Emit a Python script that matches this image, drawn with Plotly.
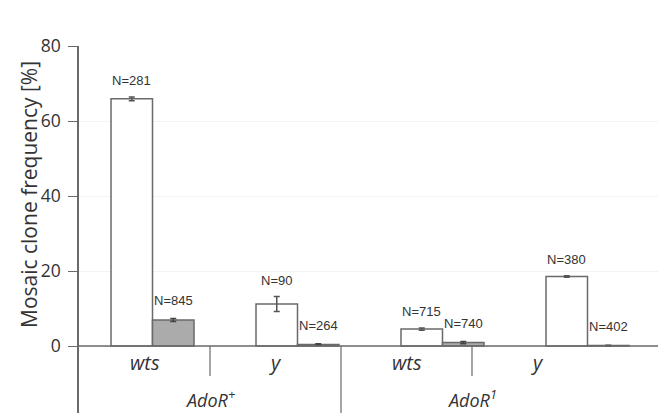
import plotly.graph_objects as go

# ---- data ----
genes = ["wts", "y", "wts", "y"]
backgrounds = ["AdoR<sup>+</sup>", "AdoR<sup>1</sup>"]
open_vals = [65.9, 11.2, 4.5, 18.5]
open_err = [0.5, 2.0, 0.3, 0.2]
open_n = ["N=281", "N=90", "N=715", "N=380"]
grey_vals = [6.9, 0.4, 0.9, 0.1]
grey_err = [0.4, 0.2, 0.3, 0.1]
grey_n = ["N=845", "N=264", "N=740", "N=402"]
yticks = [0, 20, 40, 60, 80]

# ---- geometry ----
W, H = 658, 413
L, T = 79, 46
px_per_unit_x = 145.0
x0_px = 152.5
xmin = (L - x0_px) / px_per_unit_x
xmax = (W - x0_px) / px_per_unit_x
ypx = 3.75
ymin = -(H - 346) / ypx
bw = 41.5 / px_per_unit_x

xs = list(range(len(genes)))
line_col = "#6a6a6a"
text_col = "#333333"

fig = go.Figure()
fig.add_trace(go.Bar(
    x=xs, y=open_vals, width=bw, offset=-bw,
    marker=dict(color="white", line=dict(color=line_col, width=1.5)),
    error_y=dict(type="data", array=open_err, color="#555555", thickness=1.5, width=3),
    showlegend=False,
))
fig.add_trace(go.Bar(
    x=xs, y=grey_vals, width=bw, offset=0,
    marker=dict(color="#ababab", line=dict(color=line_col, width=1.5)),
    error_y=dict(type="data", array=grey_err, color="#444444", thickness=1.5, width=3),
    showlegend=False,
))

ann = []
nfont = dict(size=13, color=text_col, family="Liberation Sans Narrow, Liberation Sans")
for i in xs:
    ann.append(dict(x=i - bw / 2, y=open_vals[i] + open_err[i], text=open_n[i], showarrow=False,
                    yanchor="bottom", yshift=7, font=nfont))
    ann.append(dict(x=i + bw / 2, y=grey_vals[i] + grey_err[i], text=grey_n[i], showarrow=False,
                    yanchor="bottom", yshift=9, font=nfont))

# category table below the axis
col_w = 131.0 / px_per_unit_x
col_start = xmin
row1_y = (346 - 362) / ypx
row2_y = (346 - 399) / ypx
shapes = [dict(type="line", xref="x", yref="y", x0=xmin, x1=xmax, y0=0, y1=0,
               line=dict(color=line_col, width=1.5))]
for k, g in enumerate(genes):
    c = col_start + col_w * (k + 0.5)
    ann.append(dict(x=c, y=row1_y, text="<i>%s</i>" % g, showarrow=False, yanchor="middle",
                    font=dict(size=20, color=text_col, family="Open Sans")))
    if k > 0:
        xb = col_start + col_w * k
        bottom = ymin if k % 2 == 0 else (346 - 376) / ypx
        shapes.append(dict(type="line", xref="x", yref="y", x0=xb, x1=xb, y0=0, y1=bottom,
                           line=dict(color=line_col, width=1.2)))
for j, b in enumerate(backgrounds):
    c = col_start + col_w * (2 * j + 1)
    ann.append(dict(x=c, y=row2_y, text="<i>%s</i>" % b, showarrow=False, yanchor="middle",
                    font=dict(size=18, color=text_col, family="Open Sans")))

ann.append(dict(xref="paper", yref="paper", x=(29 - L) / (W - L), y=(H - 195) / (H - T),
                text="Mosaic clone frequency [%]", textangle=-90, showarrow=False,
                xanchor="center", yanchor="middle",
                font=dict(size=21, color=text_col, family="Open Sans")))

fig.update_layout(
    width=W, height=H,
    margin=dict(l=L, r=0, t=T, b=0),
    plot_bgcolor="white", paper_bgcolor="white",
    annotations=ann, shapes=shapes,
    xaxis=dict(range=[xmin, xmax], showticklabels=False, showgrid=False, zeroline=False,
               showline=False, ticks=""),
    yaxis=dict(range=[ymin, 80], tickvals=yticks, ticks="outside", ticklen=9, tickcolor=line_col,
               ticklabelstandoff=4,
               showline=True, linecolor=line_col, linewidth=1.5, showgrid=True, gridcolor="#f3f3f3",
               zeroline=False, tickfont=dict(size=17.5, color=text_col, family="Open Sans")),
)
fig.write_html("out.html", config={"displayModeBar": False},
               post_script="document.body.style.margin='0';")
